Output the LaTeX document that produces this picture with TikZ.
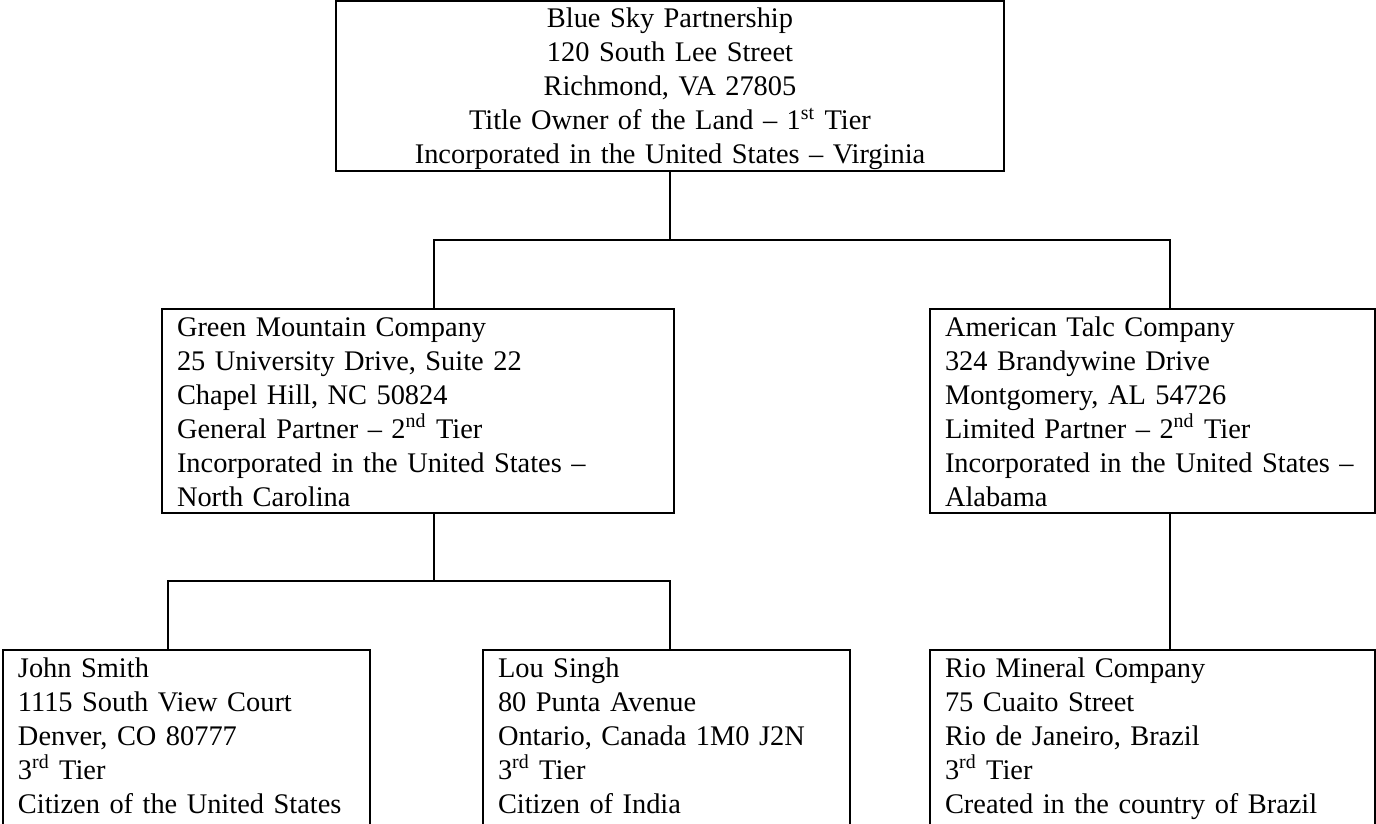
\documentclass[tikz,border=0pt]{standalone}
\usepackage{fontspec}
\setmainfont{Liberation Serif}
\usetikzlibrary{positioning,calc}
\tikzstyle{box}=[draw,line width=1pt,outer sep=0pt,inner xsep=7.5pt,inner ysep=0pt,anchor=north west,align=left,text height=13.5pt,font=\fontsize{14.2pt}{17pt}\selectfont]
\tikzstyle{link}=[line width=1pt]
\tikzset{y=-0.5pt}
\tikzset{x=0.5pt}
\begin{document}
\begin{tikzpicture}
  \useasboundingbox (0,0) rectangle (1376,824);
  %% 1st tier
  \draw (336,1) node[box,align=center,text width=319pt,text depth=71.5pt] (sky) {Blue Sky Partnership\\ 120 South Lee Street\\ Richmond, VA 27805\\ Title Owner of the Land \textendash{} 1\textsuperscript{st} Tier\\ Incorporated in the United States \textendash{} Virginia};

  %% 2nd tier
  \draw (162,309) node[box,text width=241pt,text depth=88.5pt] (green) {Green Mountain Company\\ 25 University Drive, Suite 22\\ Chapel Hill, NC 50824\\ General Partner \textendash{} 2\textsuperscript{nd} Tier\\ Incorporated in the United States \textendash\\ North Carolina};
  \draw (930,309) node[box,text width=207.5pt,text depth=88.5pt] (talc) {American Talc Company\\ 324 Brandywine Drive\\ Montgomery, AL 54726\\ Limited Partner \textendash{} 2\textsuperscript{nd} Tier\\ Incorporated in the United States \textendash\\ Alabama};

  %% 3rd tier
  \draw (3,650) node[box,text width=168.5pt,text depth=74pt] (smith) {John Smith\\ 1115 South View Court\\ Denver, CO 80777\\ 3\textsuperscript{rd} Tier\\ Citizen of the United States};
  \draw (483,650) node[box,text width=168.5pt,text depth=74pt] (lou) {Lou Singh\\ 80 Punta Avenue\\ Ontario, Canada 1M0 J2N\\ 3\textsuperscript{rd} Tier\\ Citizen of India};
  \draw (930,650) node[box,text width=207.5pt,text depth=74pt] (rio) {Rio Mineral Company\\ 75 Cuaito Street\\ Rio de Janeiro, Brazil\\ 3\textsuperscript{rd} Tier\\ Created in the country of Brazil};

  %% Connectors
  \coordinate (skyjoin) at (670,240);
  \coordinate (greenjoin) at (434,240);
  \coordinate (talcjoin) at (1170,240);
  \coordinate (smithjoin) at (168,581);
  \coordinate (loujoin) at (670,581);

  \draw[link] (sky.south) -- (skyjoin);
  \draw[link] (green.north -| greenjoin) -- (greenjoin) -- (talcjoin) -- (talc.north -| talcjoin);
  \draw[link] (green.south -| greenjoin) -- (greenjoin |- smithjoin);
  \draw[link] (smith.north -| smithjoin) -- (smithjoin) -- (loujoin) -- (lou.north -| loujoin);
  \draw[link] (talc.south -| talcjoin) -- (rio.north -| talcjoin);
\end{tikzpicture}
\end{document}
